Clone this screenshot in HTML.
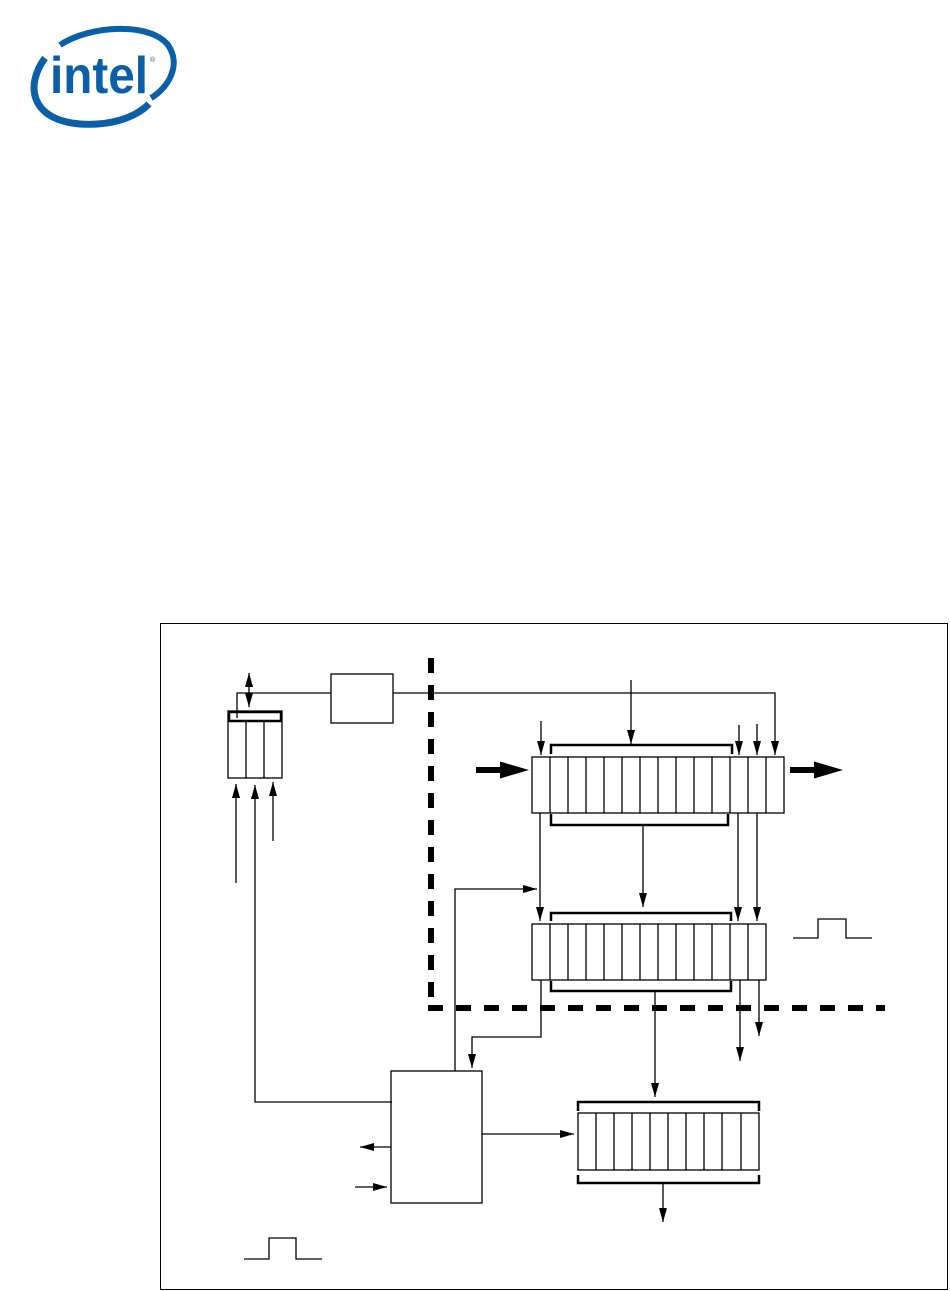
<!DOCTYPE html>
<html><head><meta charset="utf-8"><style>
html,body{margin:0;padding:0;background:#fff;}
svg{display:block;}
</style></head><body>
<svg width="950" height="1291" viewBox="0 0 950 1291" xmlns="http://www.w3.org/2000/svg">
<defs>
<marker id="a" markerWidth="14" markerHeight="8" refX="14" refY="4" orient="auto" markerUnits="userSpaceOnUse"><path d="M0,0 L14,4 L0,8 Z" fill="#000"/></marker>
</defs>
<g fill="none" stroke="#0b5ea8">
<path d="M60,45 C90,25 150,22 168,45 C182,65 168,88 151,98" stroke-width="6"/>
<path d="M45,58 C25,85 30,120 80,124 C110,126 135,118 149,104" stroke-width="7"/>
</g>
<text x="50" y="93" font-family="Liberation Sans, sans-serif" font-weight="bold" font-size="52" fill="#0b5ea8" textLength="98" lengthAdjust="spacingAndGlyphs">intel</text>
<text x="150" y="62" font-family="Liberation Sans, sans-serif" font-size="7" fill="#0b5ea8">®</text>

<rect x="160.5" y="623.5" width="787" height="666" fill="none" stroke="#000" stroke-width="1"/>

<g stroke="#000" stroke-width="1.3" fill="none">
<line x1="431" y1="658" x2="431" y2="1008" stroke-width="6" stroke-dasharray="15,12"/>
<line x1="428" y1="1008" x2="885" y2="1008" stroke-width="6" stroke-dasharray="15,13"/>

<rect x="228" y="711" width="54" height="67"/>
<rect x="229" y="712" width="52" height="9" stroke-width="2.5"/>
<line x1="246" y1="721" x2="246" y2="778"/><line x1="264" y1="721" x2="264" y2="778"/>
<path d="M237,718 V693 H331"/>
<rect x="331" y="674" width="62" height="49"/>
<path d="M393,693 H775 V755" marker-end="url(#a)"/>
<line x1="249" y1="690" x2="249" y2="673" marker-end="url(#a)"/>
<line x1="249" y1="690" x2="249" y2="707" marker-end="url(#a)"/>
<line x1="236" y1="883" x2="236" y2="784" marker-end="url(#a)"/>
<line x1="273" y1="841" x2="273" y2="782" marker-end="url(#a)"/>
<path d="M392,1102 H255 V785" marker-end="url(#a)"/>

<rect x="532" y="757" width="252" height="56"/>
<path d="M550,757V813M568,757V813M586,757V813M604,757V813M622,757V813M640,757V813M658,757V813M676,757V813M694,757V813M712,757V813M730,757V813M748,757V813M766,757V813"/>
<path d="M551,754 V745 H732 V754" stroke-width="2.5"/>
<path d="M551,814 V825 H728 V814" stroke-width="2.5"/>
<line x1="631" y1="680" x2="631" y2="744" marker-end="url(#a)"/>
<line x1="541" y1="721" x2="541" y2="755" marker-end="url(#a)"/>
<line x1="739" y1="725" x2="739" y2="755" marker-end="url(#a)"/>
<line x1="757" y1="724" x2="757" y2="755" marker-end="url(#a)"/>
<line x1="476" y1="770" x2="502" y2="770" stroke-width="6"/>
<line x1="790" y1="770" x2="816" y2="770" stroke-width="6"/>
<line x1="540" y1="813" x2="540" y2="921" marker-end="url(#a)"/>
<line x1="643" y1="825" x2="643" y2="907" marker-end="url(#a)"/>
<line x1="738" y1="813" x2="738" y2="921" marker-end="url(#a)"/>
<line x1="757" y1="813" x2="757" y2="921" marker-end="url(#a)"/>
<path d="M455,1071 V889 H537" marker-end="url(#a)"/>

<rect x="532" y="924" width="234" height="56"/>
<path d="M550,924V980M568,924V980M586,924V980M604,924V980M622,924V980M640,924V980M658,924V980M676,924V980M694,924V980M712,924V980M730,924V980M748,924V980"/>
<path d="M551,921 V913 H731 V921" stroke-width="2.5"/>
<path d="M551,981 V991 H731 V981" stroke-width="2.5"/>
<path d="M793,938 H818 V919 H846 V938 H872"/>
<path d="M541,980 V1037 H472 V1068" marker-end="url(#a)"/>
<line x1="655" y1="991" x2="655" y2="1097" marker-end="url(#a)"/>
<line x1="740" y1="980" x2="740" y2="1061" marker-end="url(#a)"/>
<line x1="759" y1="980" x2="759" y2="1036" marker-end="url(#a)"/>

<rect x="391" y="1071" width="91" height="132"/>
<line x1="482" y1="1134" x2="574" y2="1134" marker-end="url(#a)"/>
<line x1="391" y1="1147" x2="360" y2="1147" marker-end="url(#a)"/>
<line x1="355" y1="1187" x2="387" y2="1187" marker-end="url(#a)"/>
<path d="M244,1259 H269 V1238 H296 V1259 H322"/>

<rect x="578" y="1113" width="181" height="57"/>
<path d="M596,1113V1170M614,1113V1170M632,1113V1170M650,1113V1170M668,1113V1170M686,1113V1170M704,1113V1170M722,1113V1170M741,1113V1170"/>
<path d="M578,1111 V1102 H759 V1111" stroke-width="2.5"/>
<path d="M578,1175 V1183 H759 V1175" stroke-width="2.5"/>
<line x1="663" y1="1183" x2="663" y2="1222" marker-end="url(#a)"/>
</g>
<path d="M500,761.5 L529,770 L500,778.5 Z" fill="#000"/>
<path d="M814,761.5 L843,770 L814,778.5 Z" fill="#000"/>
</svg>
</body></html>
